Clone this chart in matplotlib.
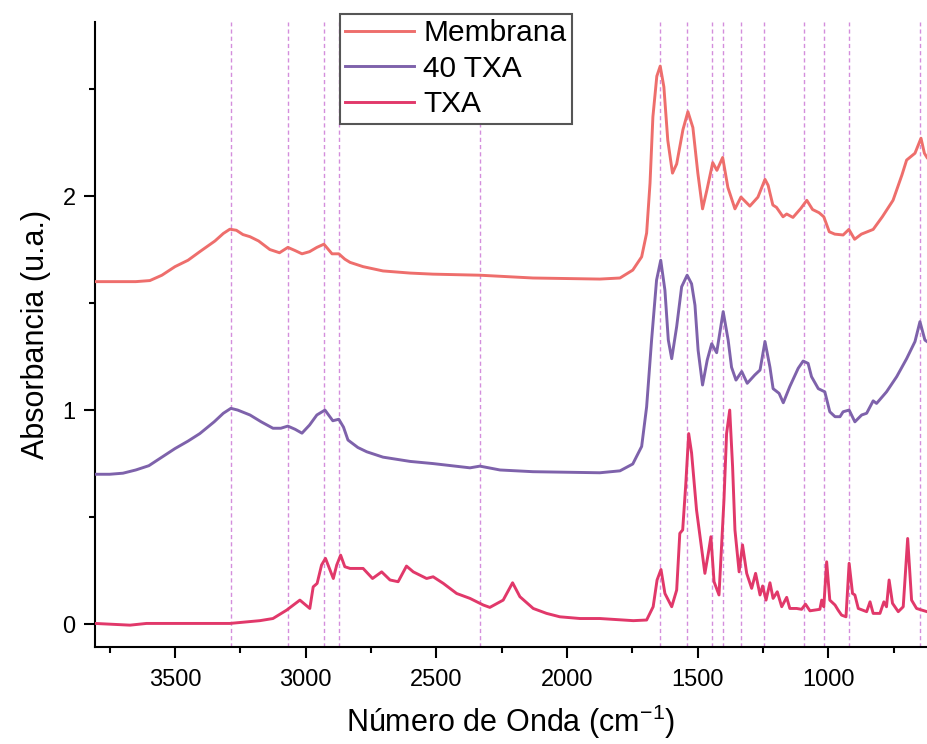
import matplotlib
matplotlib.use("Agg")
import matplotlib.pyplot as plt
from matplotlib.ticker import MultipleLocator

plt.rcParams['font.family'] = ['Liberation Sans', 'DejaVu Sans']
plt.rcParams['mathtext.fontset'] = 'custom'
plt.rcParams['mathtext.rm'] = 'Liberation Sans'
plt.rcParams['mathtext.default'] = 'regular'

# espectros FTIR (cm-1, u.a.)
membrana_wn = [3806, 3750, 3699, 3650, 3596, 3550, 3500, 3450, 3405, 3347, 3315, 3290,
               3265, 3240, 3213, 3180, 3137, 3100, 3068, 3040, 3014, 2985, 2957,
               2930, 2899, 2873, 2850, 2830, 2780, 2704, 2600, 2513, 2333, 2130, 1874, 1797, 1748, 1714,
               1695, 1682, 1671, 1656, 1643, 1629, 1614, 1596, 1580, 1556, 1537, 1518,
               1499, 1481, 1464, 1442, 1426, 1404, 1384, 1357, 1334, 1300, 1269, 1242,
               1230, 1212, 1198, 1173, 1159, 1135, 1105, 1082, 1060, 1035, 1017, 996,
               975, 943, 921, 899, 873, 828, 793, 752, 718, 700, 668, 645, 632, 622]
membrana_abs = [1.60, 1.60, 1.60, 1.60, 1.605, 1.63, 1.67, 1.70, 1.74, 1.79, 1.825, 1.845,
                1.84, 1.82, 1.81, 1.79, 1.75, 1.735, 1.76, 1.745, 1.73, 1.74, 1.76,
                1.775, 1.73, 1.73, 1.705, 1.69, 1.67, 1.65, 1.64, 1.635, 1.63, 1.617, 1.612, 1.617, 1.654, 1.716,
                1.827, 2.06, 2.37, 2.56, 2.607, 2.51, 2.26, 2.107, 2.15, 2.31, 2.394, 2.32,
                2.107, 1.94, 2.03, 2.156, 2.12, 2.18, 2.04, 1.94, 1.995, 1.953, 1.995, 2.078,
                2.05, 1.958, 1.947, 1.903, 1.916, 1.90, 1.942, 1.98, 1.937, 1.922, 1.903, 1.833,
                1.822, 1.818, 1.844, 1.798, 1.822, 1.844, 1.903, 1.98, 2.098, 2.168, 2.20, 2.27, 2.20, 2.18]

txa40_wn = [3806, 3750, 3699, 3650, 3600, 3550, 3500, 3450, 3405, 3350, 3315, 3286,
            3260, 3213, 3170, 3125, 3095, 3068, 3040, 3014, 2985, 2957, 2926,
            2896, 2873, 2855, 2838, 2800, 2766, 2704, 2600, 2513, 2371, 2333, 2256, 2130, 1874, 1797,
            1748, 1714, 1695, 1676, 1657, 1641, 1625, 1612, 1599, 1580, 1561, 1540,
            1523, 1510, 1498, 1481, 1463, 1446, 1427, 1402, 1383, 1370, 1353, 1331,
            1310, 1281, 1261, 1242, 1223, 1211, 1188, 1172, 1147, 1115, 1096, 1077,
            1064, 1038, 1013, 994, 974, 955, 943, 920, 898, 872, 853, 828, 815, 777,
            738, 700, 668, 649, 630, 622]
txa40_abs = [0.70, 0.70, 0.705, 0.72, 0.74, 0.78, 0.82, 0.855, 0.89, 0.945, 0.985, 1.008,
             1.0, 0.977, 0.945, 0.915, 0.915, 0.925, 0.91, 0.892, 0.93, 0.977, 1.00,
             0.95, 0.957, 0.92, 0.86, 0.825, 0.805, 0.78, 0.76, 0.75, 0.73, 0.738, 0.72, 0.712, 0.707, 0.716,
             0.748, 0.83, 1.015, 1.327, 1.607, 1.70, 1.56, 1.327, 1.24, 1.39, 1.576, 1.63,
             1.59, 1.49, 1.28, 1.117, 1.234, 1.31, 1.268, 1.46, 1.327, 1.20, 1.14, 1.18,
             1.125, 1.164, 1.187, 1.32, 1.20, 1.10, 1.078, 1.034, 1.11, 1.195, 1.229, 1.218,
             1.156, 1.10, 1.085, 0.992, 0.969, 0.969, 0.992, 1.00, 0.945, 0.977, 0.985, 1.043, 1.031, 1.085,
             1.156, 1.24, 1.32, 1.413, 1.327, 1.32]

txa_wn = [3806, 3672, 3609, 3290, 3175, 3125, 3073, 3022, 2984, 2971, 2956, 2939,
          2924, 2894, 2881, 2866, 2850, 2830, 2780, 2744, 2709, 2677, 2646, 2614,
          2588, 2537, 2512, 2473, 2422, 2371, 2320, 2295, 2244, 2208, 2180, 2129,
          2078, 2027, 1950, 1874, 1746, 1695, 1670, 1655, 1640, 1625, 1599, 1580,
          1568, 1557, 1545, 1534, 1523, 1504, 1472, 1459, 1449, 1437, 1418, 1399,
          1389, 1377, 1366, 1357, 1341, 1328, 1312, 1293, 1278, 1261, 1251, 1238,
          1223, 1211, 1195, 1178, 1159, 1147, 1121, 1102, 1087, 1070, 1032, 1025,
          1017, 1006, 994, 974, 962, 949, 932, 920, 907, 898, 885, 853, 840, 828,
          802, 787, 777, 767, 754, 732, 713, 696, 681, 662, 622]
txa_abs = [0.003, -0.005, 0.003, 0.003, 0.016, 0.026, 0.065, 0.112, 0.073, 0.174, 0.19, 0.276,
           0.307, 0.213, 0.276, 0.322, 0.268, 0.26, 0.26, 0.213, 0.244, 0.206, 0.198, 0.271,
           0.244, 0.213, 0.221, 0.19, 0.143, 0.12, 0.089, 0.078, 0.112, 0.193, 0.128, 0.073,
           0.05, 0.034, 0.026, 0.026, 0.016, 0.019, 0.081, 0.206, 0.255, 0.143, 0.081, 0.159,
           0.424, 0.44, 0.657, 0.89, 0.80, 0.533, 0.237, 0.33, 0.408, 0.198, 0.136, 0.58,
           0.89, 1.00, 0.735, 0.44, 0.244, 0.37, 0.237, 0.167, 0.237, 0.136, 0.178, 0.112,
           0.193, 0.12, 0.151, 0.081, 0.125, 0.073, 0.073, 0.069, 0.093, 0.062, 0.069, 0.112,
           0.081, 0.291, 0.112, 0.089, 0.065, 0.042, 0.034, 0.284, 0.143, 0.136, 0.073, 0.058, 0.104, 0.05,
           0.05, 0.104, 0.081, 0.206, 0.097, 0.058, 0.081, 0.40, 0.112, 0.073, 0.058]

# bandas marcadas
bandas = [3285, 3068, 2930, 2873, 2333, 1645, 1540, 1445, 1403, 1334, 1245, 1092, 1018, 920, 648]

fig = plt.figure(figsize=(9.27, 7.44), dpi=100)
ax = fig.add_axes([0.1025, 0.1304, 0.8975, 0.84])

for b in bandas:
    ax.axvline(b, color='#D48EDC', lw=1.0, ls=(0, (3, 2.2)), zorder=1)

ax.plot(membrana_wn, membrana_abs, color='#EE6E6C', lw=2.1, label='Membrana', zorder=3)
ax.plot(txa40_wn, txa40_abs, color='#7E62AB', lw=2.1, label='40 TXA', zorder=3)
ax.plot(txa_wn, txa_abs, color='#E1386A', lw=2.1, label='TXA', zorder=3)

ax.set_xlim(3806, 622)
ax.set_ylim(-0.107, 2.813)

ax.xaxis.set_major_locator(MultipleLocator(500))
ax.xaxis.set_minor_locator(MultipleLocator(250))
ax.yaxis.set_major_locator(MultipleLocator(1))
ax.yaxis.set_minor_locator(MultipleLocator(0.5))
ax.tick_params(which='major', length=8, width=1.5, labelsize=17, pad=6)
ax.tick_params(which='minor', length=4.5, width=1.5)
ax.tick_params(axis='x', which='major', pad=8)

for s in ['top', 'right']:
    ax.spines[s].set_visible(False)
for s in ['left', 'bottom']:
    ax.spines[s].set_linewidth(1.5)

ax.set_xlabel('Número de Onda (cm$^{-1}$)', fontsize=22, labelpad=8)
ax.set_ylabel('Absorbancia (u.a.)', fontsize=22, labelpad=8)

leg = ax.legend(loc='upper left', bbox_to_anchor=(340 / 927, 1 - 14 / 744),
                bbox_transform=fig.transFigure, borderaxespad=0, fontsize=21.5,
                frameon=True, fancybox=False, framealpha=1, edgecolor='#555555',
                handlelength=2.3, handletextpad=0.3, labelspacing=0.25, borderpad=0.18)
leg.get_frame().set_linewidth(1.5)
leg.set_zorder(5)

fig.savefig('out.png', dpi=100)
